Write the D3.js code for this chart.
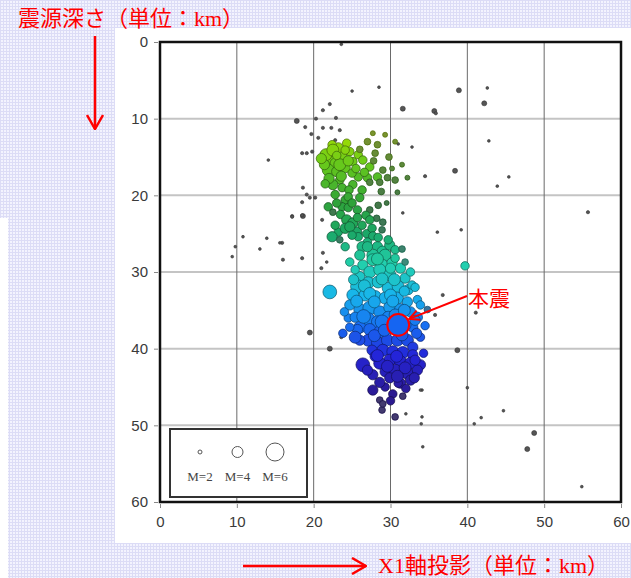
<!DOCTYPE html>
<html>
<head>
<meta charset="utf-8">
<script src="https://cdn.jsdelivr.net/npm/d3@7"></script>
<style>
  body { margin: 0; }
  svg { display: block; }
</style>
</head>
<body>
<svg width="631" height="578"></svg>
<script>
// aftershocks coloured by depth: [x1 (km), depth (km), magnitude]
const clusterEvents = [
  [23.2,13.8,3.5],[24.3,13.2,3],[22.4,13.4,3],[22.1,15.4,4],[22.8,15.8,3.5],[23.7,15.0,3.5],
  [24.7,14.3,3],[21.9,16.7,4],[23.0,16.9,3.5],[24.1,16.4,3.5],[25.1,15.6,3],[25.8,14.7,3],
  [27.0,13.0,2.5],[28.3,13.4,2.5],[28.0,14.5,2.5],[26.4,15.4,3],[27.3,16.3,3],[29.0,16.7,2.5],
  [28.3,17.6,3],[27.0,17.7,3],[25.8,17.6,3],[25.0,17.1,3],[23.4,18.0,3],[22.5,18.6,3.5],
  [23.7,19.0,3],[25.1,18.6,3],[26.3,19.3,3],[27.3,18.3,2.5],[28.6,18.3,2.5],[29.6,17.7,2.5],
  [30.6,18.0,2.5],[32.2,17.7,2],[30.9,19.6,2],[29.3,12.1,2],[30.6,13.0,2],[27.7,11.9,2],
  [21.6,14.7,4],[22.5,14.1,4],[21.4,16.0,3.5],[23.4,16.0,4],[24.1,14.1,3],
  [21.0,15.2,3.5],[22.0,17.8,3.5],[23.0,14.8,3],[24.5,15.5,3.5],[25.5,16.5,3],[26.6,17.0,3],
  [23.6,17.5,3.5],[21.5,18.5,3],[24.6,19.3,3],[26.0,14.0,2.5],[27.8,15.5,2.5],[29.8,15.0,2.5],
  [30.2,16.5,2],[28.8,19.5,2.5],[31.5,16.0,2],
  [24.1,20.6,3],[23.7,21.5,3],[24.5,21.6,3],[25.7,21.9,3],[23.0,21.0,3],[21.9,21.5,3],
  [22.8,19.9,3],[24.5,20.2,3],[26.0,20.3,3],[27.3,21.9,2.5],[28.4,21.3,2.5],
  [23.5,22.5,3],[25.0,21.0,3],[26.8,22.6,3],[25.6,24.8,3.5],[23.2,24.8,3],[26.9,25.0,3],
  [28.2,23.0,2.5],[22.5,22.2,2.5],[29.5,21.0,2],
  [24.3,23.2,3.5],[25.1,23.6,3.5],[24.1,24.3,3.5],[24.7,24.1,3.5],[25.7,22.9,3],[26.3,23.9,3],
  [22.8,23.9,3],[27.3,23.2,3],[27.6,24.3,3],[29.0,23.5,2.5],[28.9,24.5,2.5],[22.4,25.4,3.5],
  [24.1,26.7,3],[25.8,25.4,3],[27.0,26.1,3],[23.4,25.8,2.5],[25.0,25.2,3],[26.3,26.7,3.5],
  [27.7,25.3,3],
  [28.3,26.7,3.5],[29.0,27.4,4],[27.7,27.8,4],[29.9,26.5,3.5],[30.6,27.1,3],[27.0,26.7,3.5],
  [29.3,27.8,4],[27.7,28.4,4],[26.4,29.1,3.5],[28.9,29.1,4],[30.2,28.8,3.5],[31.3,29.5,3.5],
  [27.3,30.0,4],[28.6,29.7,4],[29.9,30.4,4],[26.0,30.6,3.5],[31.9,30.8,3.5],[25.7,31.9,4.5],
  [27.1,31.4,4],[28.4,31.3,4],[29.7,32.1,4],[31.0,31.9,4],[32.3,32.3,3.5],[25.1,33.0,4],
  [26.7,33.0,4],[28.0,33.2,4],[29.3,33.4,4],[30.9,33.4,4],[32.2,33.9,3.5],[33.5,33.6,3],
  [22.1,32.6,4.5],[33.9,34.3,3],[25.4,29.7,3],[24.7,28.7,3],[30.6,28.2,3],[31.9,28.7,2.5],
  [32.6,30.0,3],[32.8,31.7,3],[29.7,25.8,3],[28.4,25.5,3],[39.7,29.2,3],
  [26.0,27.8,3.5],[28.3,28.3,4],[30.0,29.5,3.5],[26.6,31.8,4],[28.9,30.9,4],[30.5,31.0,4],
  [31.8,32.5,3.5],[27.3,32.8,4],[30.0,33.0,4],[25.2,31.0,3.5],[33.2,32.0,3],[31.5,27.0,2.5],
  [26.0,34.9,4],[27.3,34.7,4.5],[28.6,35.2,4],[29.9,34.6,4],[31.3,34.9,4],[32.6,35.2,3.5],
  [33.5,35.9,3.5],[27.1,36.2,4.5],[28.3,36.5,4],[29.7,35.9,4],[26.0,37.2,4],[27.3,37.5,4],
  [28.6,37.8,4],[32.9,37.2,3.5],[33.9,38.5,3],[27.1,38.9,4],[28.3,39.2,4],[29.6,38.9,4],
  [30.9,38.9,4],[32.2,38.9,4],[32.9,39.8,3.5],[25.7,37.5,3.5],[24.5,36.0,3],[24.7,37.2,3],
  [25.4,35.9,3.5],[30.2,37.3,4],[31.9,36.9,4],[30.6,35.6,4],[24.7,34.3,3.5],[26.0,38.9,3.5],
  [25.6,33.8,4],[27.9,33.9,4],[30.3,33.8,4],[31.8,35.0,4],[26.5,35.8,4.5],[28.9,36.5,4.5],
  [33.2,36.3,3.5],[25.4,38.5,4],[27.9,38.3,4],[29.2,37.6,4],[31.5,38.2,4],[33.4,38.0,3.5],
  [24.0,35.2,3],[34.5,37.0,3],[34.8,34.9,2.5],[23.8,38.0,3],
  [29.0,40.2,4],[30.3,40.4,4],[31.6,40.5,4],[32.9,40.8,3.5],[29.9,41.5,4],[31.3,41.7,4],
  [32.6,41.9,4],[33.9,42.1,3.5],[26.4,42.1,4.5],[28.6,41.9,4],[29.3,43.0,3.5],[30.6,42.8,4],
  [32.2,43.2,4],[33.5,42.8,3.5],[29.9,43.8,3.5],[31.3,44.5,3.5],[32.6,44.1,3.5],[29.3,45.0,3],
  [27.7,45.4,3.5],[30.3,45.9,3],[31.0,44.5,3],[28.6,46.7,2.5],[28.9,48.0,2.5],[30.6,48.9,2.5],
  [27.6,40.2,3.5],[28.0,41.0,3.5],
  [28.3,40.9,4],[30.8,41.0,4],[33.2,41.5,3.5],[29.6,42.3,4],[31.9,42.5,4],[27.7,43.4,3.5],
  [30.9,43.6,4],[33.1,43.8,3.5],[28.6,44.4,3.5],[32.0,45.2,3],[30.0,46.8,3],[27.0,42.8,3.5],
  [34.3,40.6,3],[31.6,46.2,2.5],[29.0,47.2,2.5]
];

// other events (plotted dark): [x1 (km), depth (km), magnitude]
const otherEvents = [
  [23.6,0.3,1.2],[25.0,6.4,1.2],[28.5,5.9,1.2],[38.9,6.3,2],[42.6,6.0,1.2],[42.2,8.0,2],
  [31.6,8.7,2],[35.7,9.0,2],[35.9,9.3,1.5],[42.8,12.9,1.2],[38.4,16.8,2],[34.5,17.5,1.5],
  [45.4,17.6,1.2],[43.9,18.8,1.2],[55.7,22.2,1.5],[31.6,22.3,1.2],[32.8,13.7,1.2],[31.0,13.3,1.2],
  [39.2,24.5,1.2],[36.1,24.8,1.2],[36.8,33.0,1.5],[41.1,35.3,1.5],[38.7,40.2,2],[40.0,45.1,1.2],
  [34.1,45.4,1.2],[30.7,49.0,1.5],[34.1,48.9,1.2],[41.8,49.0,1.2],[35.8,35.6,1.5],[19.5,37.9,2],
  [22.1,40.0,2],[23.6,38.5,1.5],[18.6,22.7,2],[18.5,28.2,1.5],[16.0,28.4,1.5],[13.0,27.0,1.2],
  [15.9,26.2,1.5],[13.9,25.6,1.2],[21.2,27.5,1.5],[21.0,29.5,1.5],[17.2,22.7,1.5],[21.7,28.7,1.2],
  [14.1,15.4,1.2],[10.8,25.4,1.2],[9.8,26.7,1.2],[9.4,28.0,1.2],[44.7,48.1,1.2],[40.9,49.8,1.2],
  [48.7,51.0,2],[47.8,53.1,2],[54.9,58.0,1.2],[34.2,52.8,1.2],[34.0,49.8,1.2],[32.0,48.5,1.2],
  [28.9,48.1,1.5],[33.9,45.4,1.2],
  [18.5,14.5,1.5],[19.1,14.5,1.5],[19.8,14.3,1.5],[21.1,14.5,1.5],[18.6,19.0,1.5],[19.1,19.9,1.5],
  [18.5,20.9,1.5],[19.5,20.3,1.5],[20.2,20.3,1.5],[17.2,22.8,1.5],[18.5,22.6,1.5],[21.1,23.2,1.5],
  [15.6,26.2,1.2],[17.8,10.3,2],[18.9,11.1,1.5],[20.3,10.0,1.5],[21.2,8.9,1.5],[22.1,8.1,1.5],
  [22.9,9.9,1.5],[21.2,11.2,1.5],[19.7,12.0,1.5],[20.6,12.5,1.5],[22.3,11.2,1.5],[23.4,11.5,1.5],[22.8,12.8,1.5]
];

const mainShock = { x: 31.0, depth: 36.9, mag: 6.8, label: "本震" };

const xTicks = [0, 10, 20, 30, 40, 50, 60];
const yTicks = [0, 10, 20, 30, 40, 50, 60];
const legendMags = [2, 4, 6];

const depthStops = [12, 16, 21, 25, 29, 33, 37, 41, 46];
const depthColors = ["#a8e000", "#66c81c", "#2fa33a", "#1ba868", "#22d0ac", "#18b6ea", "#1770f2", "#2424d8", "#2c1a90"];

const yTitle = "震源深さ（単位：km）";
const xTitle = "X1軸投影（単位：km）";

const svg = d3.select("svg");

// slide background with its faint grid texture
const defs = svg.append("defs");
const pat = defs.append("pattern")
  .attr("id", "slide")
  .attr("width", 3).attr("height", 3)
  .attr("patternUnits", "userSpaceOnUse");
pat.append("rect").attr("width", 3).attr("height", 3).attr("fill", "#f3f3fe");
pat.append("path").attr("d", "M0,0.5H3M0.5,0V3").attr("stroke", "#dcdcf6").attr("stroke-width", 1);

defs.append("marker")
  .attr("id", "head")
  .attr("viewBox", "0 0 12 12")
  .attr("refX", 11).attr("refY", 6)
  .attr("markerWidth", 12).attr("markerHeight", 12)
  .attr("markerUnits", "userSpaceOnUse")
  .attr("orient", "auto")
  .append("path")
  .attr("d", "M1,1L11,6L1,11")
  .attr("fill", "none")
  .attr("stroke", "red")
  .attr("stroke-width", 2);

defs.append("marker")
  .attr("id", "bighead")
  .attr("viewBox", "0 0 18 18")
  .attr("refX", 17).attr("refY", 9)
  .attr("markerWidth", 18).attr("markerHeight", 18)
  .attr("markerUnits", "userSpaceOnUse")
  .attr("orient", "auto")
  .append("path")
  .attr("d", "M3,1L17,9L3,17")
  .attr("fill", "none")
  .attr("stroke", "red")
  .attr("stroke-width", 2.5);

svg.append("rect").attr("width", 631).attr("height", 578).attr("fill", "url(#slide)");
svg.append("rect").attr("x", 0).attr("y", 218).attr("width", 8).attr("height", 360).attr("fill", "#fff");
svg.append("rect").attr("x", 115).attr("y", 28).attr("width", 516).attr("height", 515).attr("fill", "#fff");

const x = d3.scaleLinear().domain([0, 60]).range([160, 621]);
const y = d3.scaleLinear().domain([0, 60]).range([42, 502]);
const r = d3.scaleLinear().domain([2, 6]).range([2.5, 9.5]);
const color = d3.scaleLinear().domain(depthStops).range(depthColors).clamp(true);
// small events read as darker, greyer dots in the original
const fillFor = d => d[2] <= 2.5 ? d3.interpolateRgb(color(d[1]), "#555")(0.55) : color(d[1]);

// grid
const grid = svg.append("g");
grid.selectAll(".hg")
  .data(yTicks.slice(1, -1))
  .join("line")
  .attr("x1", x(0)).attr("x2", x(60))
  .attr("y1", d => y(d)).attr("y2", d => y(d))
  .attr("stroke", "#c4c4c4").attr("stroke-width", 2);
grid.selectAll(".vg")
  .data(xTicks.slice(1, -1))
  .join("line")
  .attr("x1", d => x(d)).attr("x2", d => x(d))
  .attr("y1", y(0)).attr("y2", y(60))
  .attr("stroke", "#6a6a6a").attr("stroke-width", 1);

// axes
const xAxis = svg.append("g")
  .attr("transform", `translate(0,${y(60) + 2})`)
  .call(d3.axisBottom(x).tickValues(xTicks).tickSize(4).tickPadding(8));
const yAxis = svg.append("g")
  .attr("transform", `translate(${x(0) - 2},0)`)
  .call(d3.axisLeft(y).tickValues(yTicks).tickSize(4).tickPadding(6));
[xAxis, yAxis].forEach(a => {
  a.select(".domain").remove();
  a.selectAll("line").attr("stroke", "#888");
  a.selectAll("text")
    .attr("fill", "#3a3a3a")
    .style("font-family", "'Liberation Sans', Arial, sans-serif")
    .style("font-size", "15px");
});

// events
svg.append("g").selectAll("circle")
  .data(otherEvents)
  .join("circle")
  .attr("cx", d => x(d[0]))
  .attr("cy", d => y(d[1]))
  .attr("r", d => Math.max(1.4, r(d[2])))
  .attr("fill", "#555")
  .attr("stroke", "#333")
  .attr("stroke-width", 0.6);

svg.append("g").selectAll("circle")
  .data(clusterEvents)
  .join("circle")
  .attr("cx", d => x(d[0]))
  .attr("cy", d => y(d[1]))
  .attr("r", d => Math.max(1.4, r(d[2])))
  .attr("fill", fillFor)
  .attr("stroke", d => d3.color(color(d[1])).darker(2))
  .attr("stroke-opacity", 0.8)
  .attr("stroke-width", 0.9);

// frame
svg.append("rect")
  .attr("x", x(0)).attr("y", y(0))
  .attr("width", x(60) - x(0)).attr("height", y(60) - y(0))
  .attr("fill", "none").attr("stroke", "#111").attr("stroke-width", 2.5);

// legend
const lg = svg.append("g");
lg.append("rect")
  .attr("x", 170).attr("y", 429).attr("width", 137).attr("height", 68)
  .attr("fill", "#fff").attr("stroke", "#333").attr("stroke-width", 2);
const lx = d3.scalePoint().domain(legendMags).range([200, 275]);
lg.selectAll("circle")
  .data(legendMags)
  .join("circle")
  .attr("cx", d => lx(d)).attr("cy", 452)
  .attr("r", d => r(d) - 0.5)
  .attr("fill", "#fff").attr("stroke", "#555").attr("stroke-width", 1);
lg.selectAll("text")
  .data(legendMags)
  .join("text")
  .attr("x", d => lx(d)).attr("y", 481)
  .attr("text-anchor", "middle")
  .attr("fill", "#444")
  .style("font-family", "'Liberation Serif', 'Times New Roman', serif")
  .style("font-size", "13px")
  .text(d => `M=${d}`);

// main shock
svg.append("circle")
  .attr("cx", x(mainShock.x)).attr("cy", y(mainShock.depth))
  .attr("r", r(mainShock.mag))
  .attr("fill", "#1565f2")
  .attr("stroke", "red").attr("stroke-width", 2);
svg.append("line")
  .attr("x1", 467).attr("y1", 296)
  .attr("x2", x(mainShock.x) + 11).attr("y2", y(mainShock.depth) - 6)
  .attr("stroke", "red").attr("stroke-width", 2)
  .attr("marker-end", "url(#head)");
svg.append("text")
  .attr("x", 468).attr("y", 306)
  .attr("fill", "red")
  .style("font-family", "'Noto Sans CJK JP', sans-serif")
  .style("font-size", "21px")
  .text(mainShock.label);

// slide titles and arrows
const titleFont = "'Liberation Serif', 'Noto Sans CJK JP', serif";
svg.append("text")
  .attr("x", 18).attr("y", 26)
  .attr("fill", "red")
  .style("font-family", titleFont)
  .style("font-size", "22px")
  .text(yTitle);
svg.append("line")
  .attr("x1", 95).attr("y1", 36).attr("x2", 95).attr("y2", 129)
  .attr("stroke", "red").attr("stroke-width", 2.5)
  .attr("marker-end", "url(#bighead)");
svg.append("line")
  .attr("x1", 243).attr("y1", 566).attr("x2", 366).attr("y2", 566)
  .attr("stroke", "red").attr("stroke-width", 2.5)
  .attr("marker-end", "url(#bighead)");
svg.append("text")
  .attr("x", 378).attr("y", 573)
  .attr("fill", "red")
  .style("font-family", titleFont)
  .style("font-size", "22px")
  .text(xTitle);
</script>
</body>
</html>
